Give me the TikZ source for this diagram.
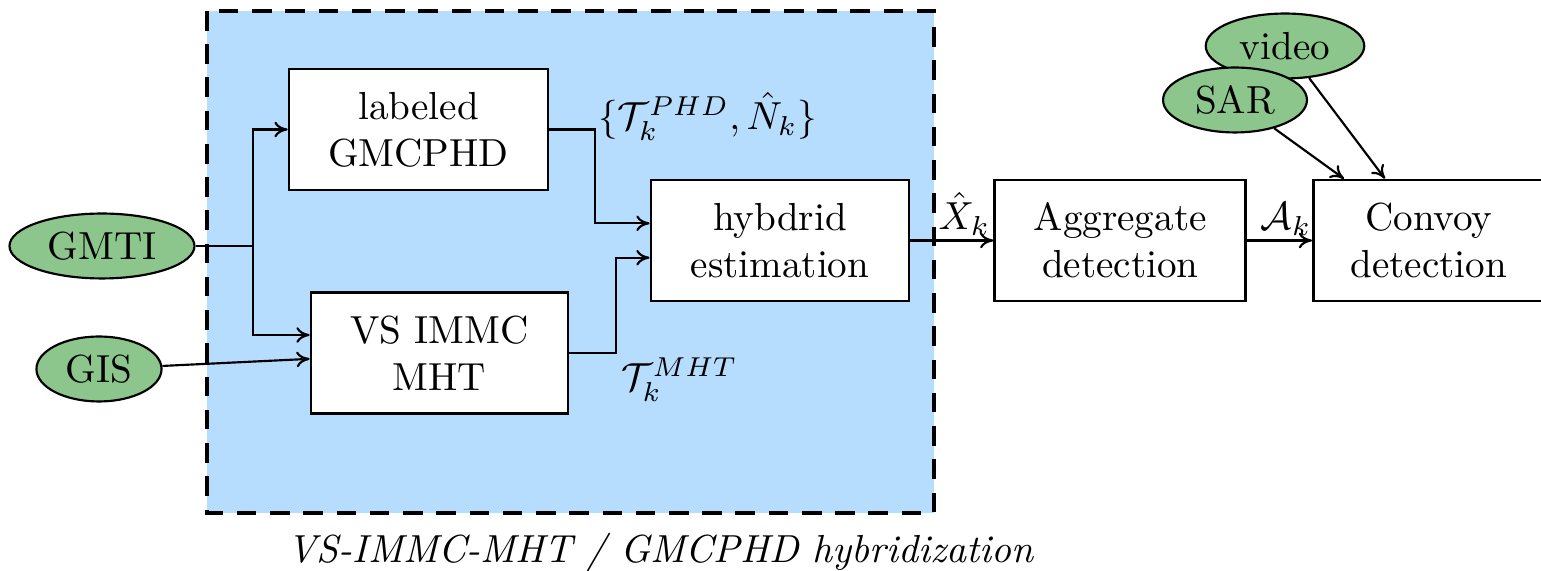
\documentclass[tikz,border=0pt]{standalone}
\usepackage{xcolor}
\usepackage{tikz}
\usetikzlibrary{arrows.meta,positioning,shapes.geometric}

\definecolor{sensorgreen}{RGB}{140,198,140}
\definecolor{hybblue}{RGB}{183,221,254}

\begin{document}
\begin{tikzpicture}[
  x=0.2557pt, y=-0.2557pt,
  block/.style={rectangle, draw, line width=0.7pt, fill=white, minimum height=30.9pt, align=center},
  sensor/.style={ellipse, draw, line width=0.55pt, fill=sensorgreen, minimum height=16.6pt, inner xsep=2.8pt, inner ysep=1pt},
  frame/.style={draw, line width=0.85pt, dash pattern=on 5pt off 3.5pt, fill=hybblue},
  arrow/.style={-{To[length=3.4pt, width=4pt]}, line width=0.55pt},
  link/.style={line width=0.55pt}
]
\useasboundingbox (0,0) rectangle (1541,571);
\draw[frame] (207,11) rectangle (934,513);
\node (caption) at (661,553) {\textit{VS-IMMC-MHT / GMCPHD hybridization}};

\node[sensor] (gmti) at (102,246) {GMTI};
\node[sensor] (gis) at (99,369) {GIS};
\node[sensor] (video) at (1285,46) {video};
\node[sensor] (sar) at (1235,100) {SAR};

\node[block, minimum width=66.2pt] (lab) at (418.5,129.5) {labeled\\GMCPHD};
\node[block, minimum width=65.7pt] (vs) at (439.5,353) {VS IMMC\\MHT};
\node[block, minimum width=66pt] (hyb) at (780,240.5) {hybdrid\\estimation};
\node[block, minimum width=64.2pt, right=21.2pt of hyb] (agg) {Aggregate\\detection};
\node[block, minimum width=59pt, right=16.6pt of agg] (conv) {Convoy\\detection};

\coordinate (split) at (253,246);
\draw[link] (gmti) -- (split);
\draw[arrow] (split) |- (lab);
\draw[arrow] (split) |- ([yshift=4.6pt]vs.west);
\draw[arrow] (gis) -- ([yshift=-1.5pt]vs.west);

\draw[arrow] (lab.east) -- ++(46,0) node[anchor=base west, inner sep=0.5pt] (phd) {$\{\mathcal{T}_k^{PHD},\hat{N}_k\}$} |- ([yshift=4.4pt]hyb.west);
\draw[arrow] (vs.east) -- ++(47,0) node[anchor=north west, inner sep=1pt] (mht) {$\mathcal{T}_k^{MHT}$} |- ([yshift=-4.4pt]hyb.west);

\draw[arrow] (hyb) -- node[pos=0.65, above, inner sep=1pt] (xk) {$\hat{X}_k$} (agg);
\draw[arrow] (agg) -- node[pos=0.6, above, inner sep=1pt] (ak) {$\mathcal{A}_k$} (conv);
\draw[arrow] (sar) -- ([xshift=-21.7pt]conv.north);
\draw[arrow] (video) -- ([xshift=-11.2pt]conv.north);
\end{tikzpicture}
\end{document}
